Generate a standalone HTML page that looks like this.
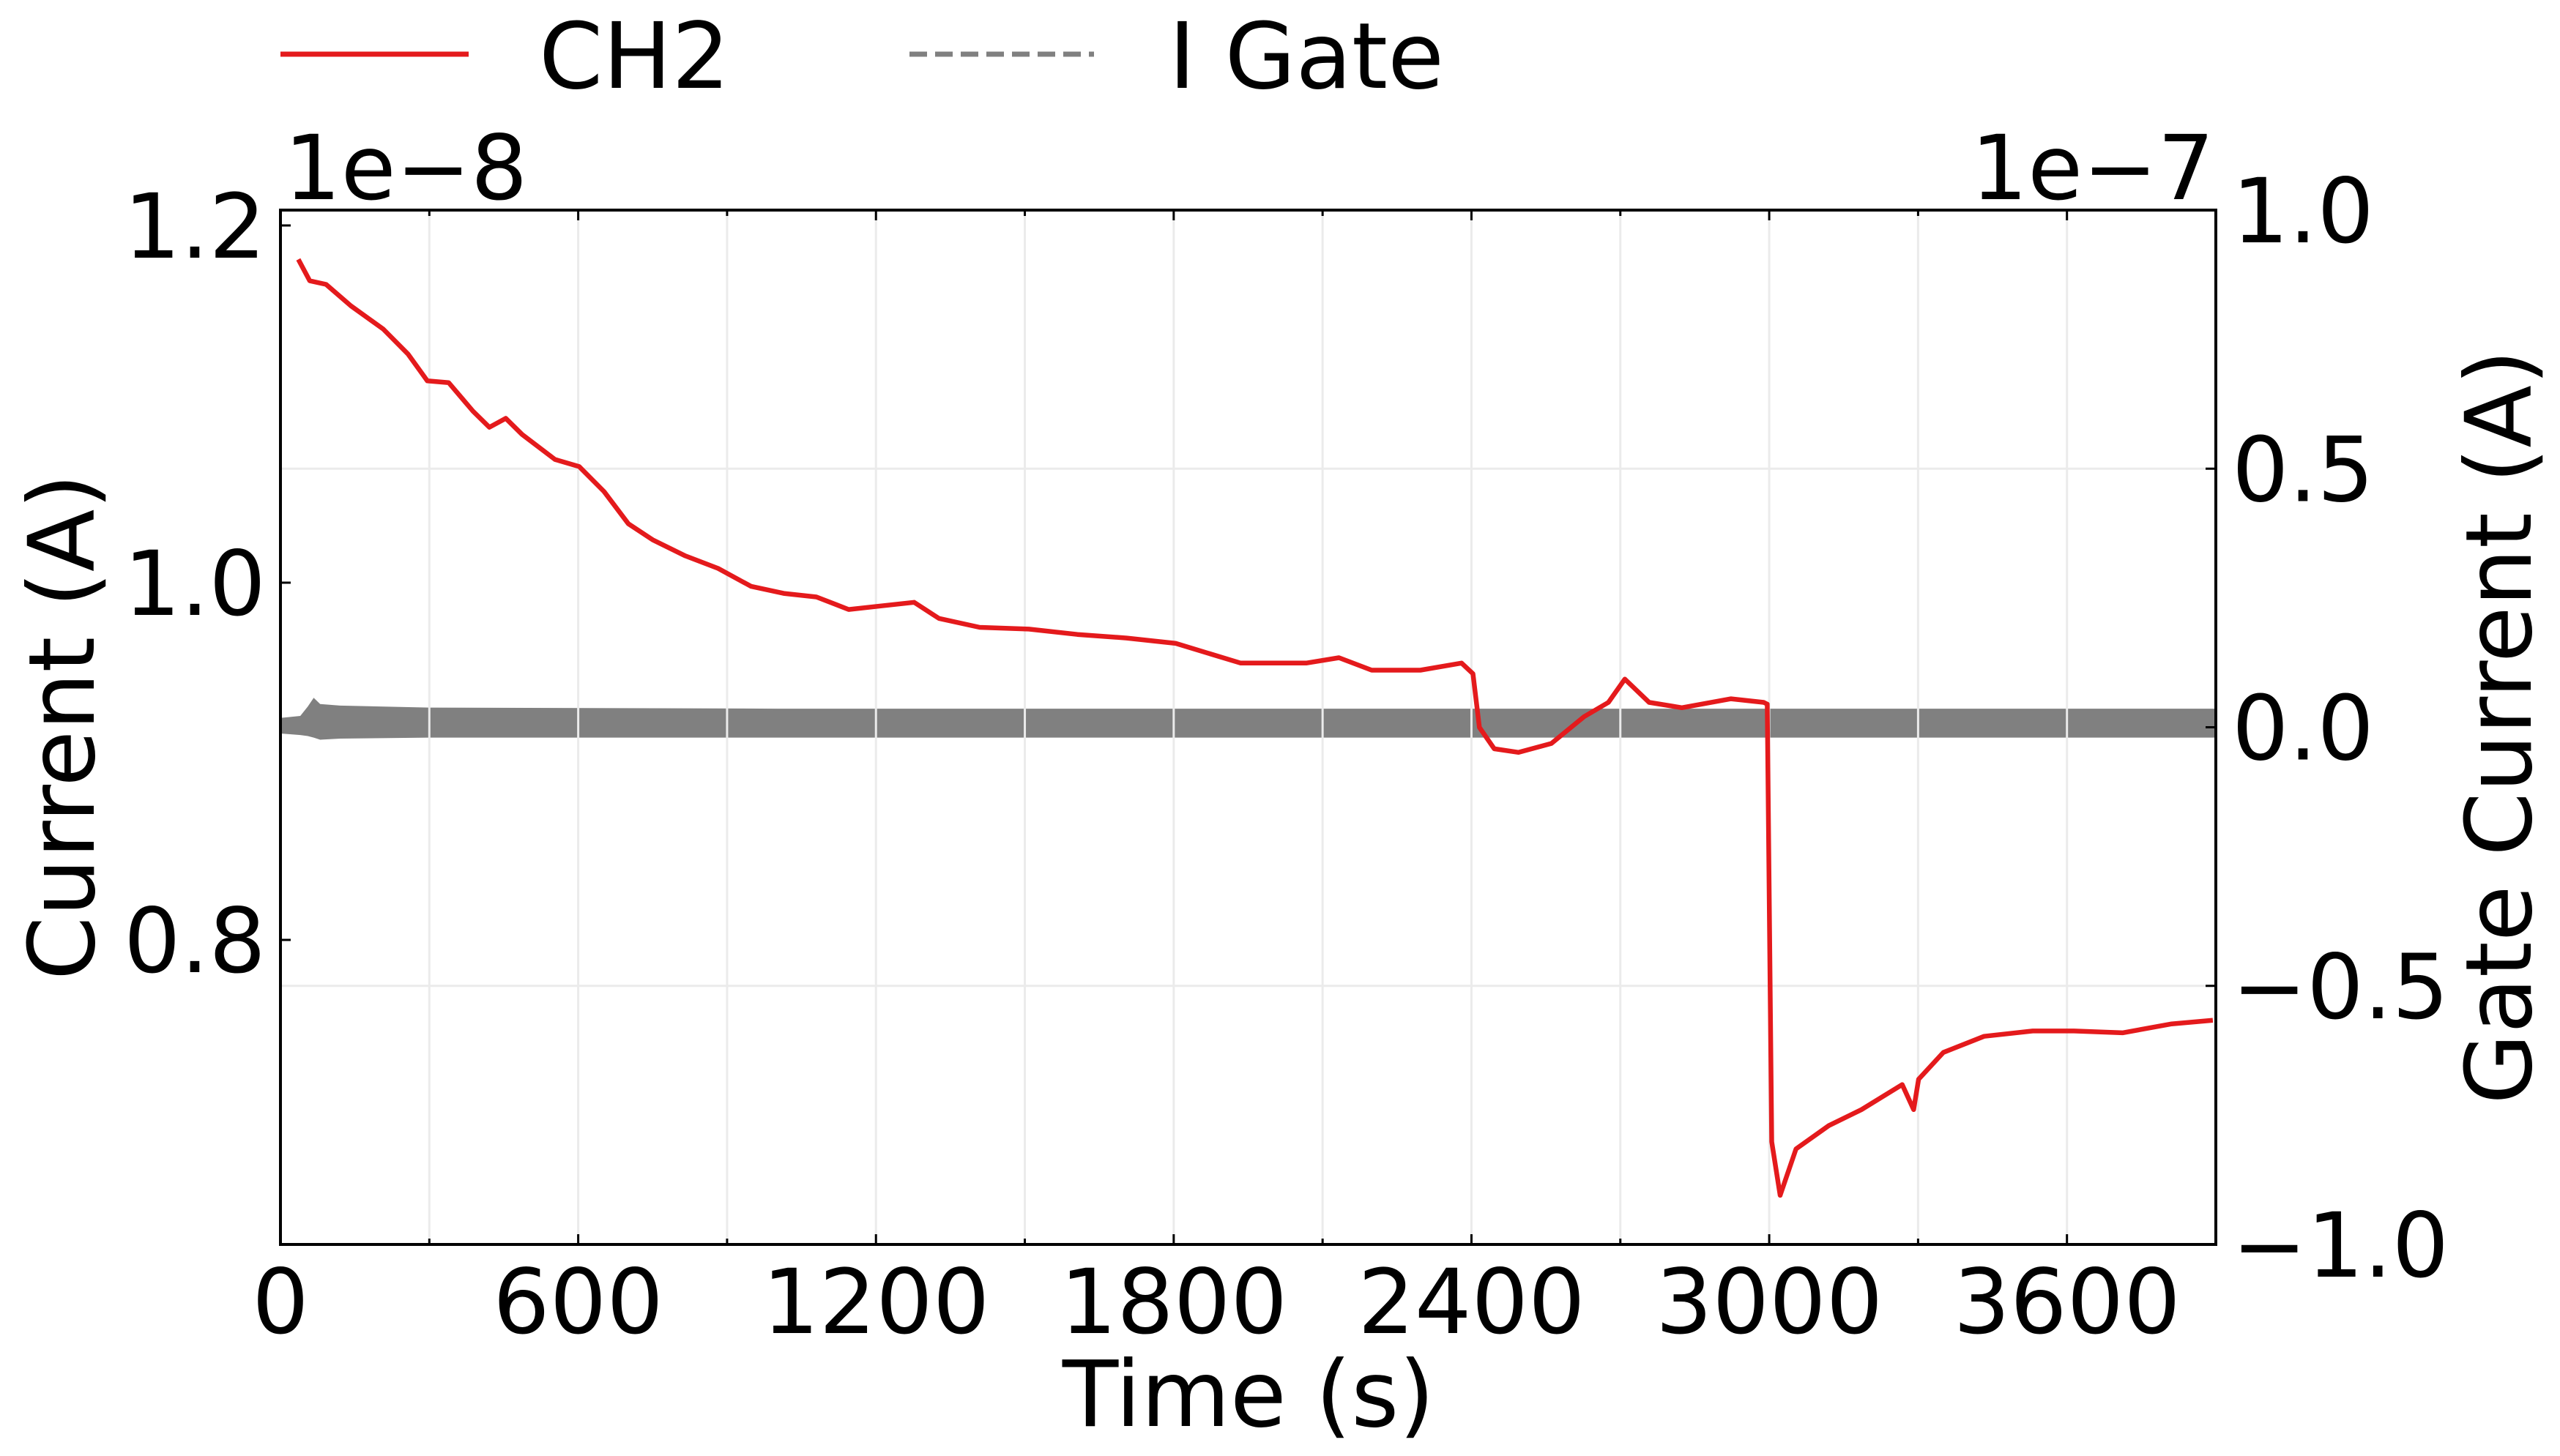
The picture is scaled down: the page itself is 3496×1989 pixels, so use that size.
<!DOCTYPE html>
<html><head><meta charset="utf-8"><style>
html,body{margin:0;padding:0;background:#fff;}
svg text{font-family:"DejaVu Sans","Liberation Sans",sans-serif;fill:#000;}
</style></head><body>
<svg id="chart" width="3496" height="1984" viewBox="0 0 3496 1984" xmlns="http://www.w3.org/2000/svg"></svg>
<script>
const timeTicks=[0,600,1200,1800,2400,3000,3600];
const leftTicks=[0.8,1.0,1.2];
const leftTickLabels=["0.8","1.0","1.2"];
const rightTicks=[-1.0,-0.5,0.0,0.5,1.0];
const rightTickLabels=["\u22121.0","\u22120.5","0.0","0.5","1.0"];
const ch2Time=[36,59,92,142,207,257,296,339,388,421,454,487,553,602,652,701,750,816,882,948,1014,1080,1145,1211,1277,1327,1409,1508,1606,1705,1804,1935,2067,2133,2199,2297,2380,2403,2416,2446,2495,2561,2627,2676,2709,2758,2824,2923,2989,2996,3005,3022,3054,3120,3186,3268,3291,3301,3351,3433,3531,3614,3712,3811,3894];
const ch2Value=[1.181,1.169,1.167,1.155,1.142,1.128,1.113,1.112,1.096,1.087,1.092,1.083,1.069,1.065,1.051,1.033,1.024,1.015,1.008,0.998,0.994,0.992,0.985,0.987,0.989,0.980,0.975,0.974,0.971,0.969,0.966,0.955,0.955,0.958,0.951,0.951,0.955,0.949,0.919,0.907,0.905,0.910,0.925,0.933,0.946,0.933,0.930,0.935,0.933,0.932,0.687,0.657,0.683,0.696,0.705,0.719,0.705,0.722,0.737,0.746,0.749,0.749,0.748,0.753,0.755];
const gateTime=[0,40,55,67,80,120,300,1000,2000,3000,3900];
const gateHigh=[0.018,0.022,0.04,0.057,0.045,0.042,0.038,0.036,0.036,0.036,0.036];
const gateLow=[-0.012,-0.015,-0.017,-0.02,-0.024,-0.022,-0.02,-0.02,-0.02,-0.02,-0.02];

const L=383,R=3026,T=287,B=1700;
const xMin=0,xMax=3900,lMin=0.6295,lMax=1.2086,rMin=-1,rMax=1;
const sx=t=>L+(t-xMin)/(xMax-xMin)*(R-L);
const sl=v=>B-(v-lMin)/(lMax-lMin)*(B-T);
const sr=v=>B-(v-rMin)/(rMax-rMin)*(B-T);
const svg=document.getElementById('chart');
const NS='http://www.w3.org/2000/svg';
const FS=122;
function mk(tag,attrs,parent){const e=document.createElementNS(NS,tag);for(const k in attrs)e.setAttribute(k,attrs[k]);(parent||svg).appendChild(e);return e;}

let d='';
gateTime.forEach((t,i)=>{d+=(i?'L':'M')+sx(t)+' '+sr(gateHigh[i]);});
for(let i=gateTime.length-1;i>=0;i--)d+='L'+sx(gateTime[i])+' '+sr(gateLow[i]);
let band=mk('path',{d:d+'Z',fill:'#808080'});



for(let t=300;t<xMax;t+=300){
 let g=mk('line',{x1:sx(t),x2:sx(t),y1:T,y2:B,stroke:'#ebebeb','stroke-width':3});
 
 
}
[-0.5,0.5].forEach(v=>{
 let g=mk('line',{x1:L,x2:R,y1:sr(v),y2:sr(v),stroke:'#ebebeb','stroke-width':3});
 
 
});

let p='';
ch2Time.forEach((t,i)=>{p+=(i?'L':'M')+sx(t).toFixed(1)+' '+sl(ch2Value[i]).toFixed(1);});
let ln=mk('path',{d:p,fill:'none',stroke:'#e41a1c','stroke-width':6.5,'stroke-linejoin':'round'});



let fr=mk('rect',{x:L,y:T,width:R-L,height:B-T,fill:'none',stroke:'#000','stroke-width':4});



for(let t=0;t<xMax;t+=300){
 const major=t%600===0;
 let tk=mk('line',{x1:sx(t),x2:sx(t),y1:B,y2:B-(major?14:8),stroke:'#000','stroke-width':3});
 
 
 let tk2=mk('line',{x1:sx(t),x2:sx(t),y1:T,y2:T+(major?14:8),stroke:'#000','stroke-width':3});
 
 
}
timeTicks.forEach(t=>{
 let tx=mk('text',{x:sx(t),y:1821,'font-size':FS,'text-anchor':'middle'});
 tx.textContent=t;
 
 
});
leftTicks.forEach((v,i)=>{
 let tk=mk('line',{x1:L,x2:L+14,y1:sl(v),y2:sl(v),stroke:'#000','stroke-width':3});
 
 
 let tx=mk('text',{x:L-20,y:sl(v)+44,'font-size':FS,'text-anchor':'end'});
 tx.textContent=leftTickLabels[i];
 
 
});
rightTicks.forEach((v,i)=>{
 let tk=mk('line',{x1:R,x2:R-14,y1:sr(v),y2:sr(v),stroke:'#000','stroke-width':3});
 
 
 let tx=mk('text',{x:R+22,y:sr(v)+44,'font-size':FS,'text-anchor':'start'});
 tx.textContent=rightTickLabels[i];
 
 
});

function txt(name,content,attrs){let e=mk('text',attrs);e.textContent=content;return e;}
txt('left-offset-label','1e\u22128',{x:388,y:272,'font-size':FS});
txt('right-offset-label','1e\u22127',{x:3024,y:272,'font-size':FS,'text-anchor':'end'});
txt('x-axis-title','Time (s)',{x:1705,y:1948,'font-size':FS+3,'text-anchor':'middle'});
txt('left-y-axis-title','Current (A)',{x:0,y:0,'font-size':FS+3,'text-anchor':'middle',transform:'translate(128,993) rotate(-90)'});
txt('right-y-axis-title','Gate Current (A)',{x:0,y:0,'font-size':FS+3,'text-anchor':'middle',transform:'translate(3456,993) rotate(-90)'});

let lg=mk('g',{});


let l1=mk('line',{x1:383,x2:640,y1:74,y2:74,stroke:'#e41a1c','stroke-width':7},lg);


let t1=mk('text',{x:736,y:120,'font-size':FS+3},lg);t1.textContent='CH2';


let l2=mk('line',{x1:1242,x2:1494,y1:74,y2:74,stroke:'#808080','stroke-width':7,'stroke-dasharray':'24 11'},lg);


let t2=mk('text',{x:1596,y:120,'font-size':FS+3},lg);t2.textContent='I Gate';


</script>
</body></html>
